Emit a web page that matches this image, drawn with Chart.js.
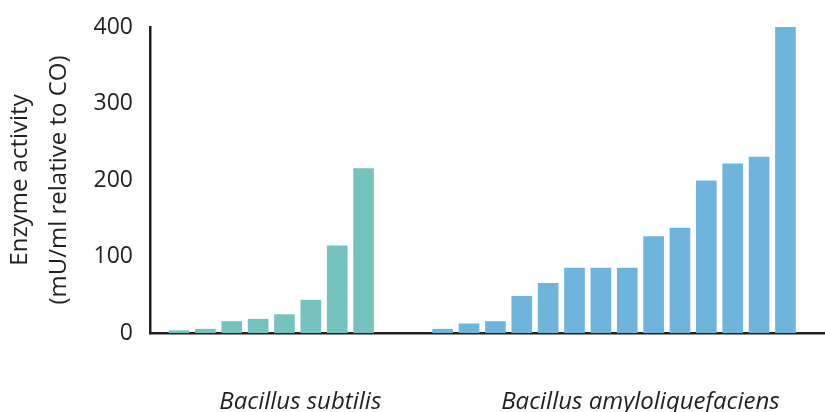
<!DOCTYPE html>
<html>
<head>
<meta charset="utf-8">
<script src="https://cdn.jsdelivr.net/npm/chart.js@4"></script>
<style>
    html, body { margin: 0; padding: 0; background: #fff; }
    #wrap { width: 825px; height: 412px; }
</style>
</head>
<body>
<div id="wrap"><canvas id="chart"></canvas></div>
<script>
const subtilisValues = [3, 5, 15, 18, 24, 43, 114, 215];
const amyloValues = [5, 12, 15, 48, 65, 85, 85, 85, 126, 137, 199, 221, 230, 400];
const groupNames = ["Bacillus subtilis", "Bacillus amyloliquefaciens"];
const yTicks = [0, 100, 200, 300, 400];

const GREEN = "#74c3be";
const BLUE = "#6fb4dd";
const TEXT = "#231f20";
const FONT = "'Open Sans'";

// slot index of each bar, with two empty slots between the groups
const gapSlots = 2;
const subtilisData = subtilisValues.map((v, i) => ({x: i, y: v}));
const amyloStart = subtilisValues.length + gapSlots;
const amyloData = amyloValues.map((v, i) => ({x: amyloStart + i, y: v}));

// group label sits a little right of the group middle, like the original
const groupLabelPos = [4.6, 17.5];

// draws the italic species names under the x axis
const groupLabels = {
    id: 'groupLabels',
    afterDraw(chart) {
        const {ctx, scales: {x}} = chart;
        ctx.save();
        ctx.fillStyle = TEXT;
        ctx.font = "italic 24px " + FONT;
        ctx.textAlign = "center";
        ctx.textBaseline = "alphabetic";
        groupNames.forEach((name, i) => {
            ctx.fillText(name, x.getPixelForValue(groupLabelPos[i]), x.top + 76);
        });
        ctx.restore();
    }
};

new Chart(document.getElementById('chart'), {
    type: 'bar',
    data: {
        datasets: [
            {label: groupNames[0], data: subtilisData, backgroundColor: GREEN},
            {label: groupNames[1], data: amyloData, backgroundColor: BLUE}
        ]
    },
    plugins: [groupLabels],
    options: {
        responsive: true,
        maintainAspectRatio: false,
        animation: false,
        devicePixelRatio: 1,
        datasets: {
            bar: {grouped: false, barThickness: 20}
        },
        layout: {padding: {top: 27, right: 0, bottom: 0, left: 0}},
        scales: {
            x: {
                type: 'linear',
                min: -1.1,
                max: 24.5,
                offset: false,
                grid: {display: false},
                border: {display: true, color: TEXT, width: 2.5},
                afterFit: (scale) => { scale.height = 79; },
                ticks: {display: false}
            },
            y: {
                min: 0,
                max: 400,
                grid: {display: false},
                border: {display: true, color: TEXT, width: 2.5},
                afterBuildTicks: (scale) => {
                    scale.ticks = yTicks.map(v => ({value: v}));
                },
                afterFit: (scale) => { scale.width = 150; },
                ticks: {
                    padding: 9,
                    color: TEXT,
                    font: {family: FONT, size: 23}
                },
                title: {
                    display: true,
                    text: ["Enzyme activity", "(mU/ml relative to CO)"],
                    color: TEXT,
                    padding: 0,
                    font: {family: FONT, size: 24, lineHeight: 1.65}
                }
            }
        },
        plugins: {
            legend: {display: false},
            tooltip: {enabled: false}
        }
    }
});
</script>
</body>
</html>
